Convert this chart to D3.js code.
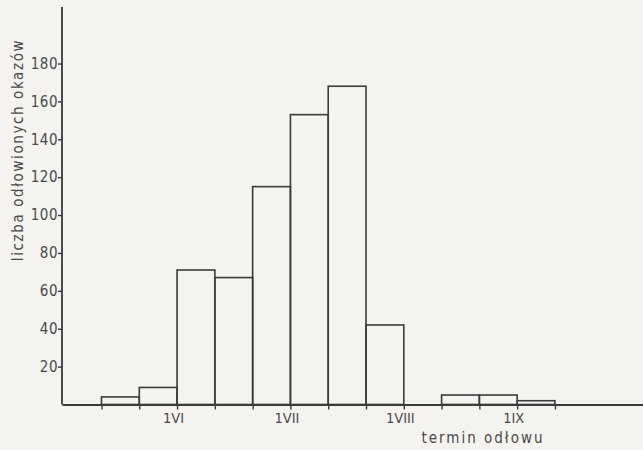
<!DOCTYPE html>
<html><head><meta charset="utf-8">
<script src="https://cdn.jsdelivr.net/npm/d3@7"></script>
<style>
html,body{margin:0;padding:0;background:#f4f3ef;}
svg{display:block;}
text{font-family:"DejaVu Sans Condensed","DejaVu Sans",sans-serif;fill:#4a4a4a;}
</style></head>
<body>
<svg id="c" width="643" height="450"></svg>
<script>
// 10-day catch periods (decades), starting 11 May
const periods = ["11-20 V","21-31 V","1-10 VI","11-20 VI","21-30 VI","1-10 VII","11-20 VII","21-31 VII","1-10 VIII","11-20 VIII","21-31 VIII","1-10 IX"];
const counts  = [4, 9, 71, 67, 115, 153, 168, 42, 0, 5, 5, 2];
const monthTicks = [2, 5, 8, 11];          // bin edge index of 1st day of month
const monthLabels = ["1VI", "1VII", "1VIII", "1IX"];
const yTicks = [20, 40, 60, 80, 100, 120, 140, 160, 180];

const svg = d3.select("#c");
const ink = "#3a3a3a";
const font = '"DejaVu Sans Condensed","DejaVu Sans",sans-serif';
const x = d3.scaleLinear().domain([-1.045, 14.33]).range([62, 643]);
const y = d3.scaleLinear().domain([0, 180]).range([404.5, 63.5]);
const yTop = 7;

// bars
svg.append("g").selectAll("rect")
  .data(counts.map((v, i) => ({v, i, p: periods[i]})).filter(d => d.v > 0))
  .join("rect")
  .attr("x", d => x(d.i))
  .attr("width", d => x(d.i + 1) - x(d.i))
  .attr("y", d => y(d.v))
  .attr("height", d => y(0) - y(d.v))
  .attr("fill", "none")
  .attr("stroke", ink)
  .attr("stroke-width", 1.6);

// x axis
const edges = d3.range(0, counts.length + 1);
const xAxis = d3.axisBottom(x).tickValues(edges).tickSize(5).tickSizeOuter(0)
  .tickFormat(d => { const k = monthTicks.indexOf(d); return k >= 0 ? monthLabels[k] : ""; });
const gx = svg.append("g").attr("transform", `translate(0,${y(0)})`).call(xAxis);
gx.select(".domain").attr("stroke", ink).attr("stroke-width", 1.8);
gx.selectAll(".tick line").attr("stroke", ink).attr("stroke-width", 1.4);
gx.selectAll(".tick text").attr("font-size", 14.5).attr("dx", -4).attr("dy", "0.75em")
  .style("font-family", font).attr("fill", "#4a4a4a");

// y axis
const yAxis = d3.axisLeft(y).tickValues(yTicks).tickSize(4).tickSizeOuter(0);
const gy = svg.append("g").attr("transform", `translate(${x.range()[0]},0)`).call(yAxis);
gy.select(".domain").remove();
gy.append("line").attr("x1", 0).attr("x2", 0).attr("y1", yTop).attr("y2", y(0))
  .attr("stroke", ink).attr("stroke-width", 1.8);
gy.selectAll(".tick line").attr("stroke", ink).attr("stroke-width", 1.4);
gy.selectAll(".tick text").attr("font-size", 15).attr("x", -4).attr("letter-spacing", 0.5)
  .style("font-family", font).attr("fill", "#4a4a4a");

// titles
svg.append("text").attr("transform", "translate(23,150) rotate(-90)")
  .attr("text-anchor", "middle").attr("font-size", 15).attr("letter-spacing", 1.6)
  .style("font-family", font)
  .text("liczba odłowionych okazów");
svg.append("text").attr("x", 483).attr("y", 443)
  .attr("text-anchor", "middle").attr("font-size", 15).attr("letter-spacing", 2)
  .style("font-family", font)
  .text("termin odłowu");
</script>
</body></html>
